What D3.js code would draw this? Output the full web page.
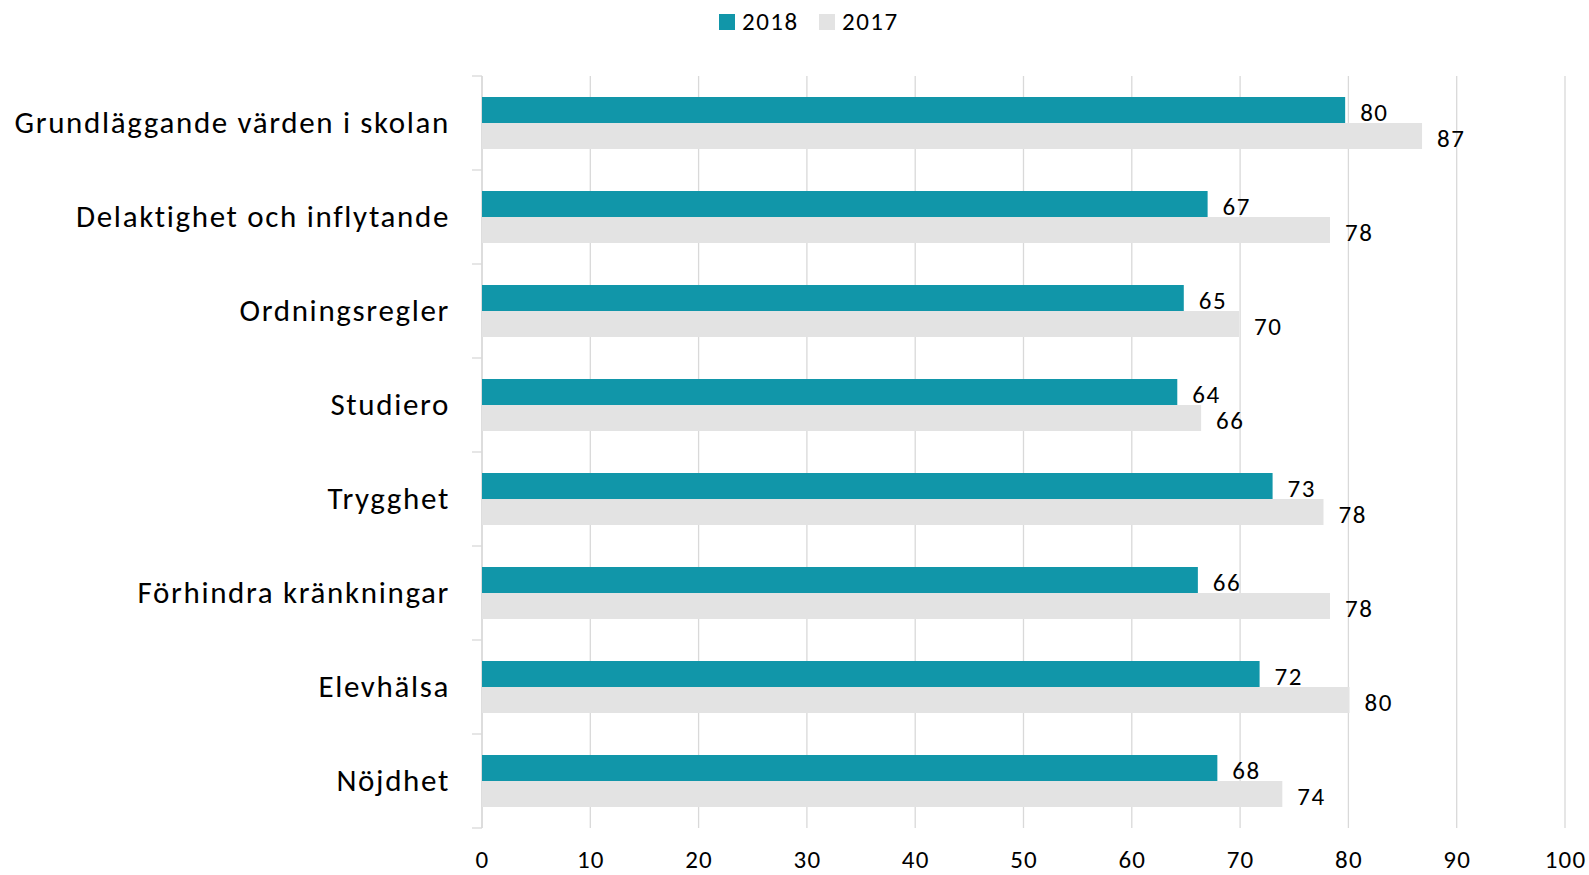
<!DOCTYPE html>
<html>
<head>
<meta charset="utf-8">
<script src="https://cdn.jsdelivr.net/npm/d3@7"></script>
<style>
  body { margin: 0; background: #fff; }
  svg text { font-family: Carlito, Calibri, Lato, sans-serif; fill: #000; }
</style>
</head>
<body>
<div id="chart"></div>
<script>
// datos
var categorias = ["Grundläggande värden i skolan", "Delaktighet och inflytande", "Ordningsregler",
  "Studiero", "Trygghet", "Förhindra kränkningar", "Elevhälsa", "Nöjdhet"];
var serie2018 = [79.7, 67.0, 64.8, 64.2, 73.0, 66.1, 71.8, 67.9];
var serie2017 = [86.8, 78.3, 69.9, 66.4, 77.7, 78.3, 80.1, 73.9];
var series = ["2018", "2017"];
var colores = ["#1196a9", "#e3e3e3"];
var ticksX = [0, 10, 20, 30, 40, 50, 60, 70, 80, 90, 100];

var W = 1589, H = 875;
var margin = {top: 76, bottom: 47, left: 482, right: 24};
var width = W - margin.left - margin.right;
var height = H - margin.top - margin.bottom;

var svg = d3.select("#chart")
  .append("svg")
  .attr("width", W)
  .attr("height", H);

var g = svg.append("g")
  .attr("transform", "translate(" + margin.left + "," + margin.top + ")");

var x = d3.scaleLinear().domain([0, 100]).range([0, width]);
var y = d3.scaleBand().domain(categorias).range([0, height]).paddingInner(0.447).paddingOuter(0.2235);
var ySub = d3.scaleBand().domain(series).range([0, y.bandwidth()]);

var formato = d3.format(".0f");

// grilla
g.selectAll(".grid")
  .data(ticksX)
  .enter().append("line")
  .attr("class", "grid")
  .attr("x1", d => x(d)).attr("x2", d => x(d))
  .attr("y1", 0).attr("y2", height)
  .style("stroke", "#d9d9d9")
  .style("stroke-width", "1.3px");

// eje x (solo etiquetas)
var ejeX = g.append("g")
  .attr("transform", "translate(0," + height + ")")
  .call(d3.axisBottom(x).tickValues(ticksX).tickSize(0).tickPadding(0).tickFormat(d3.format("d")));
ejeX.select(".domain").remove();
ejeX.selectAll("text")
  .attr("y", 40).attr("dy", null)
  .style("font-size", "25px")
  .style("letter-spacing", "1.2px")
  .style("font-family", null);

// eje y con marcas entre categorias
var limites = d3.range(categorias.length + 1).map(i => i * y.step());
g.selectAll(".ytick")
  .data(limites)
  .enter().append("line")
  .attr("class", "ytick")
  .attr("x1", -10).attr("x2", 0)
  .attr("y1", d => d).attr("y2", d => d)
  .style("stroke", "#d9d9d9")
  .style("stroke-width", "1.3px");

g.append("line")
  .attr("x1", 0).attr("x2", 0)
  .attr("y1", 0).attr("y2", height)
  .style("stroke", "#d9d9d9")
  .style("stroke-width", "1.3px");

g.selectAll(".cat")
  .data(categorias)
  .enter().append("text")
  .attr("class", "cat")
  .attr("x", -32)
  .attr("y", d => y(d) + y.bandwidth() / 2 + 10)
  .attr("text-anchor", "end")
  .style("font-size", "31px")
  .style("letter-spacing", "1.65px")
  .text(d => d);

// barras
var datos = [];
categorias.forEach(function(c, i) {
  datos.push({cat: c, serie: "2018", valor: serie2018[i]});
  datos.push({cat: c, serie: "2017", valor: serie2017[i]});
});

var color = d3.scaleOrdinal().domain(series).range(colores);

g.selectAll(".barra")
  .data(datos)
  .enter().append("rect")
  .attr("class", "barra")
  .attr("x", 0)
  .attr("y", d => y(d.cat) + ySub(d.serie))
  .attr("width", d => x(d.valor))
  .attr("height", ySub.bandwidth())
  .style("fill", d => color(d.serie));

g.selectAll(".valor")
  .data(datos)
  .enter().append("text")
  .attr("class", "valor")
  .attr("x", d => x(d.valor) + 15)
  .attr("y", d => y(d.cat) + ySub(d.serie) + ySub.bandwidth() / 2 + 11)
  .style("font-size", "25px")
  .style("letter-spacing", "1.5px")
  .text(d => formato(d.valor));

// leyenda
var leyenda = svg.append("g").attr("transform", "translate(719,14)");
var items = leyenda.selectAll(".item")
  .data(series)
  .enter().append("g")
  .attr("class", "item")
  .attr("transform", (d, i) => "translate(" + (i * 100) + ",0)");
items.append("rect")
  .attr("width", 16).attr("height", 16)
  .style("fill", d => color(d));
items.append("text")
  .attr("x", 23).attr("y", 16)
  .style("font-size", "25px")
  .style("letter-spacing", "1.5px")
  .text(d => d);
</script>
</body>
</html>
